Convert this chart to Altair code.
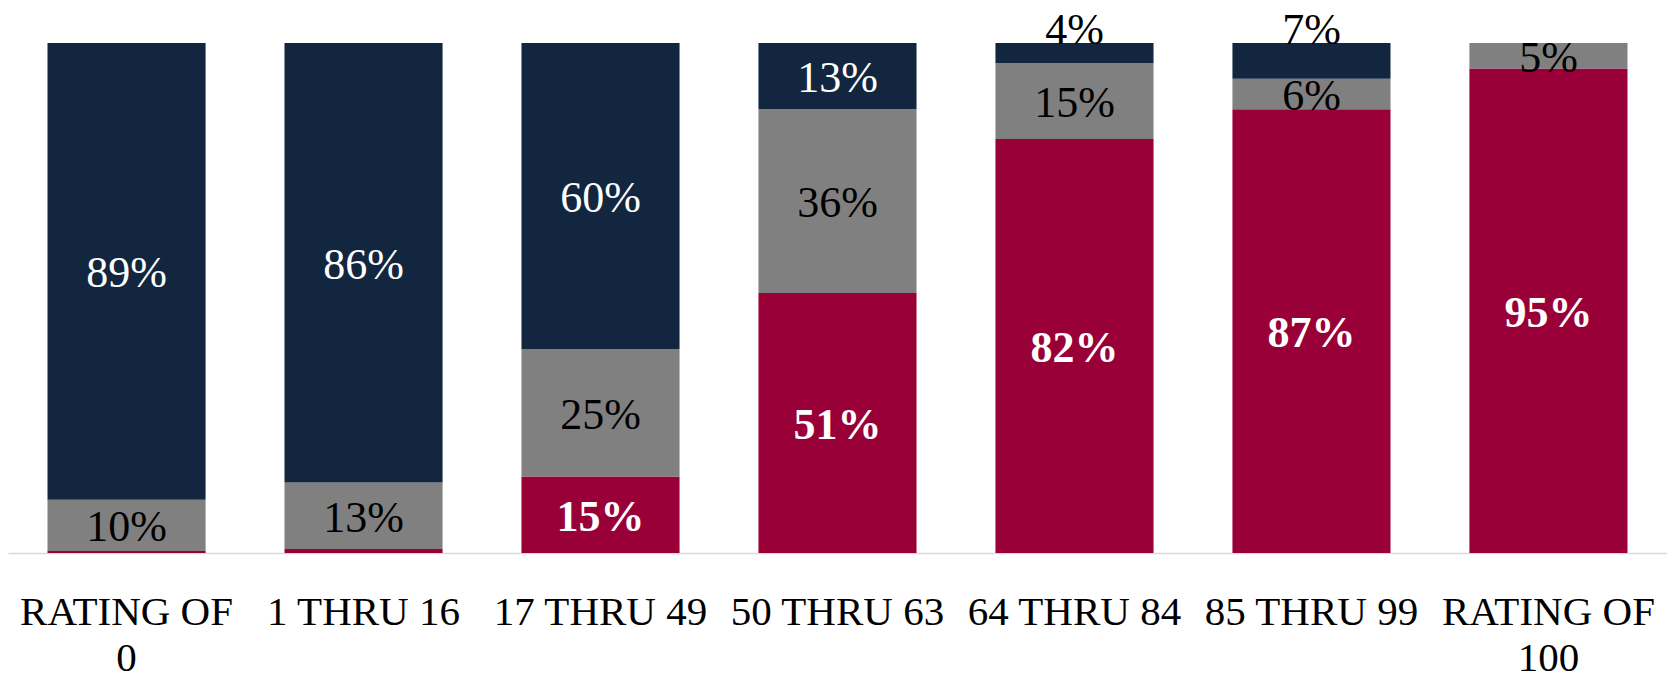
import altair as alt
import pandas as pd

categories = ["RATING OF 0", "1 THRU 16", "17 THRU 49", "50 THRU 63",
              "64 THRU 84", "85 THRU 99", "RATING OF 100"]
red_vals = [0.4, 0.8, 15, 51, 82, 87, 95]
grey_vals = [10, 13, 25, 36, 15, 6, 5]
navy_vals = [89, 86, 60, 13, 4, 7, 0]

series_names = ["red", "grey", "navy"]
series_colors = ["#990038", "#808080", "#12263F"]

rows = []
for i, c in enumerate(categories):
    for k, (s, vals) in enumerate(zip(series_names, [red_vals, grey_vals, navy_vals])):
        rows.append({"cat": c, "series": s, "value": vals[i], "ord": k})
df = pd.DataFrame(rows)

FONT = "Liberation Serif"

x_enc = alt.X("cat:N", sort=categories, title=None,
              scale=alt.Scale(paddingInner=0.333, paddingOuter=0.1667),
              axis=alt.Axis(
                  labelAngle=0, labelFont=FONT, labelFontSize=41, labelColor="#000000",
                  labelPadding=39, ticks=False, domainColor="#d9d9d9", domainWidth=1.5,
                  labelLineHeight=46, labelBaseline="top", labelLimit=0,
                  labelOverlap=False,
                  labelExpr="indexof(datum.label, 'RATING') == 0 ? ['RATING OF', substring(datum.label, 10)] : datum.label"))

base = alt.Chart(df).transform_stack(
    stack="value", groupby=["cat"], as_=["y0", "y1"], offset="normalize",
    sort=[alt.SortField("ord", order="ascending")]
).transform_calculate(
    mid="(datum.y0 + datum.y1) / 2",
    label="format(datum.value, 'd') + '%'"
)

y_scale = alt.Scale(domain=[0, 1], nice=False)

bars = base.mark_bar().encode(
    x=x_enc,
    y=alt.Y("y0:Q", scale=y_scale, axis=None),
    y2="y1:Q",
    color=alt.Color("series:N", scale=alt.Scale(domain=series_names, range=series_colors), legend=None),
)

def labels(filter_expr, color, weight="normal", yfield="mid", dy=3):
    return base.transform_filter(filter_expr).mark_text(
        font=FONT, fontSize=44, color=color, fontWeight=weight, baseline="middle", dy=dy
    ).encode(
        x=alt.X("cat:N", sort=categories),
        y=alt.Y(f"{yfield}:Q", scale=y_scale),
        text="label:N",
    )

red_lab = labels("datum.series == 'red' && datum.value >= 3", "#ffffff", "bold")
grey_lab = labels("datum.series == 'grey' && datum.value >= 3", "#000000")
navy_lab = labels("datum.series == 'navy' && datum.value >= 10", "#ffffff")
navy_small = labels("datum.series == 'navy' && datum.value >= 3 && datum.value < 10", "#000000",
                    yfield="y1", dy=-12)

chart = alt.layer(bars, red_lab, grey_lab, navy_lab, navy_small).properties(
    width=1659, height=510,
    padding={"left": 8, "top": 43, "right": 0, "bottom": 122},
    autosize=alt.AutoSizeParams(type="none"),
    background="#ffffff",
).configure_view(stroke=None)

chart.save("out.html", embed_options={"renderer": "svg", "actions": False})
